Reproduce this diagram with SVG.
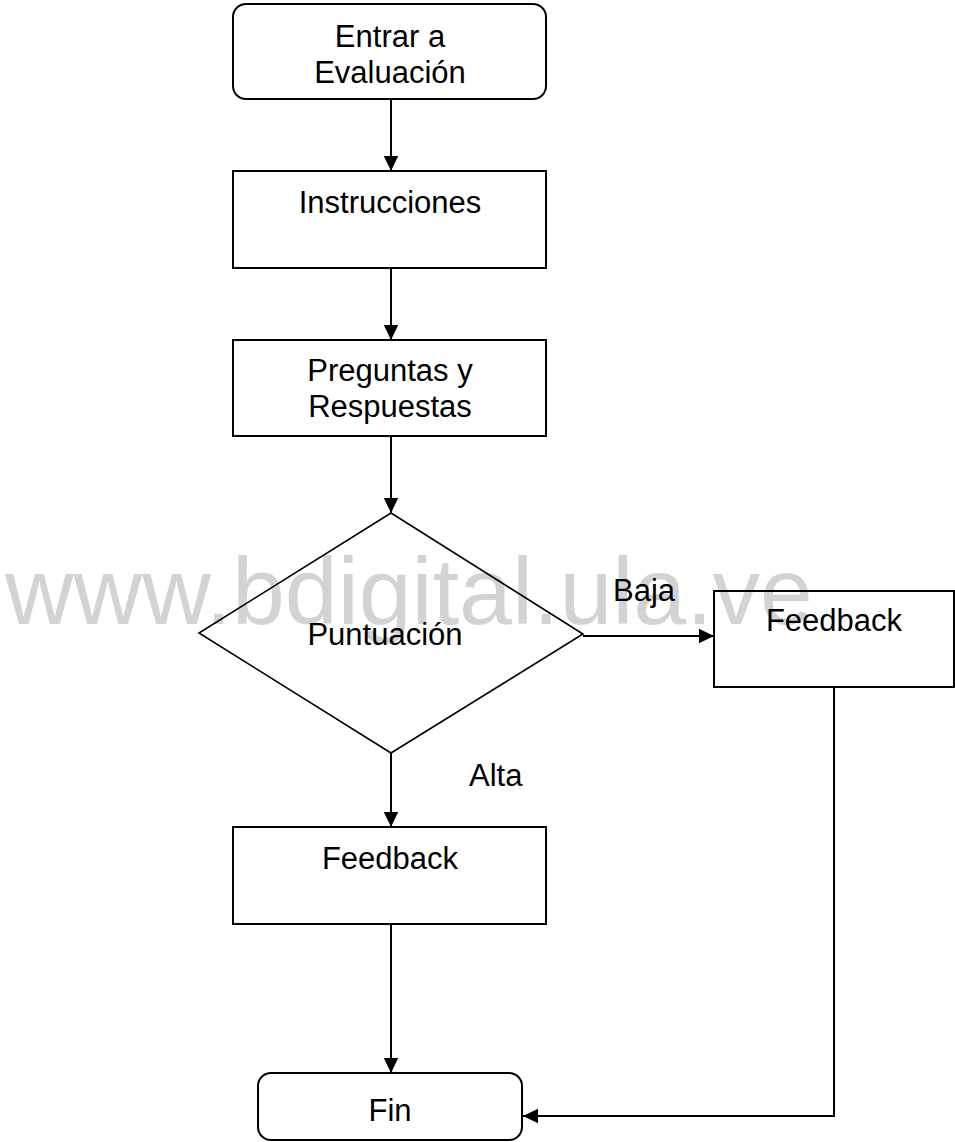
<svg xmlns="http://www.w3.org/2000/svg" width="955" height="1142" viewBox="0 0 955 1142">
<style>
.box{fill:none;stroke:#000;stroke-width:2}
.dia{fill:none;stroke:#000;stroke-width:1.6}
.t{font-family:"Liberation Sans",Arial,sans-serif;font-size:31px;fill:#000;text-anchor:middle}
.tl{font-family:"Liberation Sans",Arial,sans-serif;font-size:31px;fill:#000}
.c{fill:none;stroke:#000;stroke-width:2}
.wm{font-family:"Liberation Sans",Arial,sans-serif;font-size:95px;fill:#d3d3d3}
</style>
<defs>
<marker id="arr" markerUnits="userSpaceOnUse" markerWidth="16" markerHeight="16" viewBox="0 0 16 16" refX="15" refY="8" orient="auto">
<path d="M0,0.8 L15,8 L0,15.2 Z" fill="#000"/>
</marker>
</defs>
<rect width="955" height="1142" fill="#fff"/>
<text class="wm" x="5" y="624">www.bdigital.ula.ve</text>
<g id="connectors">
<line class="c" x1="391" y1="99" x2="391" y2="171" marker-end="url(#arr)"/>
<line class="c" x1="391" y1="268" x2="391" y2="340" marker-end="url(#arr)"/>
<line class="c" x1="391" y1="436" x2="391" y2="513" marker-end="url(#arr)"/>
<line class="c" x1="583" y1="636" x2="714" y2="636" marker-end="url(#arr)"/>
<line class="c" x1="391" y1="753" x2="391" y2="827" marker-end="url(#arr)"/>
<line class="c" x1="391" y1="924" x2="391" y2="1073" marker-end="url(#arr)"/>
<polyline class="c" points="834,687 834,1116 523,1116" marker-end="url(#arr)"/>
<text class="tl" x="613" y="601">Baja</text>
<text class="tl" x="469" y="786">Alta</text>
</g>
<g id="start">
<rect class="box" x="233" y="4" width="313" height="95" rx="13"/>
<text class="t" x="390" y="47">Entrar a</text>
<text class="t" x="390" y="83">Evaluación</text>
</g>
<g id="instrucciones">
<rect class="box" x="233" y="171" width="313" height="97"/>
<text class="t" x="390" y="213">Instrucciones</text>
</g>
<g id="preguntas">
<rect class="box" x="233" y="340" width="313" height="96"/>
<text class="t" x="390" y="381">Preguntas y</text>
<text class="t" x="390" y="417">Respuestas</text>
</g>
<g id="puntuacion">
<polygon class="dia" points="391,513 583,634 391,753 199,633"/>
<text class="t" x="385" y="645">Puntuación</text>
</g>
<g id="feedback-baja">
<rect class="box" x="714" y="591" width="240" height="96"/>
<text class="t" x="834" y="631">Feedback</text>
</g>
<g id="feedback-alta">
<rect class="box" x="233" y="827" width="313" height="97"/>
<text class="t" x="390" y="869">Feedback</text>
</g>
<g id="fin">
<rect class="box" x="258" y="1073" width="264" height="67" rx="13"/>
<text class="t" x="390" y="1121">Fin</text>
</g>
</svg>
